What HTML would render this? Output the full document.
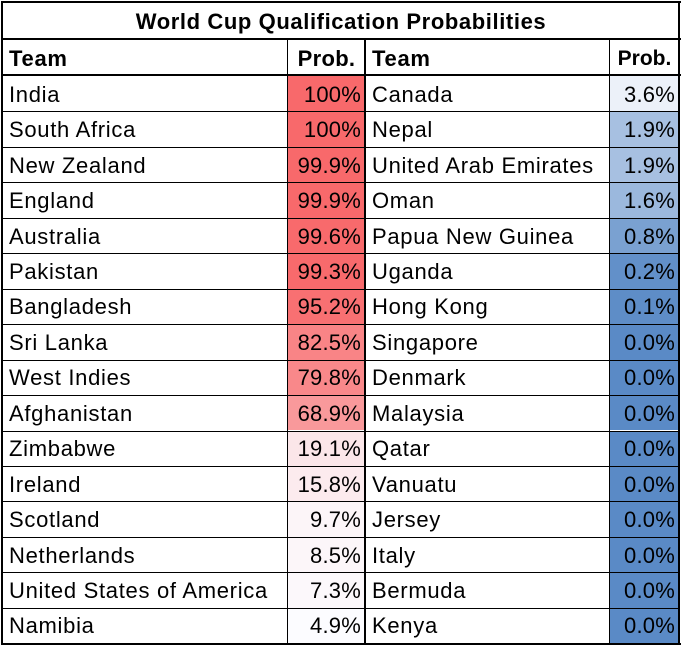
<!DOCTYPE html><html><head><meta charset="utf-8"><style>
body{margin:0;background:#fff;width:682px;height:647px;overflow:hidden;font-family:"Liberation Sans",sans-serif;}
#t{position:absolute;left:0;top:0;width:682px;height:647px}
.c{position:absolute;box-sizing:border-box;font-size:22px;line-height:1;display:flex;align-items:center;padding:2px 6px 0 7px;color:#000;white-space:nowrap;letter-spacing:0.7px}
.r{justify-content:flex-end;padding-right:4px;letter-spacing:0.2px}
.h{position:absolute;background:#000}
</style></head><body><div id="t"></div>
<script>
var L=["India",100,"South Africa",100,"New Zealand",99.9,"England",99.9,"Australia",99.6,"Pakistan",99.3,"Bangladesh",95.2,"Sri Lanka",82.5,"West Indies",79.8,"Afghanistan",68.9,"Zimbabwe",19.1,"Ireland",15.8,"Scotland",9.7,"Netherlands",8.5,"United States of America",7.3,"Namibia",4.9];
var R=["Canada",3.6,"Nepal",1.9,"United Arab Emirates",1.9,"Oman",1.6,"Papua New Guinea",0.8,"Uganda",0.2,"Hong Kong",0.1,"Singapore",0,"Denmark",0,"Malaysia",0,"Qatar",0,"Vanuatu",0,"Jersey",0,"Italy",0,"Bermuda",0,"Kenya",0];
var t=document.getElementById('t'),h='';
function mix(a,b,f){return 'rgb('+[0,1,2].map(i=>Math.round(a[i]+(b[i]-a[i])*f)).join(',')+')'}
function cell(x,y,w,hh,txt,cls,bg,st){h+='<div class="c '+(cls||'')+'" style="left:'+x+'px;top:'+y+'px;width:'+w+'px;height:'+hh+'px;'+(bg?'background:'+bg+';':'')+(st||'')+'">'+txt+'</div>'}
cell(2,2,677,37,'World Cup Qualification Probabilities','','','justify-content:center;font-weight:bold;letter-spacing:0.6px');
cell(2,39,285,37,'Team','','','font-weight:bold');
cell(287,39,78,37,'Prob.','','','font-weight:bold;justify-content:center;letter-spacing:0.3px');
cell(365,39,244,37,'Team','','','font-weight:bold');
cell(609,39,70,37,'Prob.','','','font-weight:bold;justify-content:center;letter-spacing:0px;font-size:21px');
for(var i=0;i<16;i++){var y=76+i*35.45,hh=35.45;
var v=L[2*i+1],f=(v-4.9)/95.1;
cell(2,y,285,hh,L[2*i]);
cell(287,y,78,hh,(v==100?'100':v.toFixed(1))+'%','r',mix([252,252,255],[248,105,107],f));
var w=R[2*i+1],g=Math.min(1,1-w/4.0);
cell(365,y,244,hh,R[2*i]);
cell(609,y,70,hh,w.toFixed(1)+'%','r',mix([252,252,255],[90,138,198],g));
if(i>0)h+='<div class="h" style="left:2px;top:'+Math.round(y)+'px;width:677px;height:1px"></div>';}
h+='<div class="h" style="left:1px;top:1px;width:680px;height:2px"></div>';
h+='<div class="h" style="left:1px;top:643px;width:680px;height:2px"></div>';
h+='<div class="h" style="left:1px;top:1px;width:2px;height:644px"></div>';
h+='<div class="h" style="left:678px;top:1px;width:2px;height:644px"></div>';
h+='<div class="h" style="left:1px;top:38px;width:680px;height:2px"></div>';
h+='<div class="h" style="left:1px;top:74px;width:680px;height:2px"></div>';
h+='<div class="h" style="left:287px;top:39px;width:1px;height:606px"></div>';
h+='<div class="h" style="left:364px;top:39px;width:2px;height:606px"></div>';
h+='<div class="h" style="left:609px;top:39px;width:1px;height:606px"></div>';
t.innerHTML=h;
</script></body></html>
